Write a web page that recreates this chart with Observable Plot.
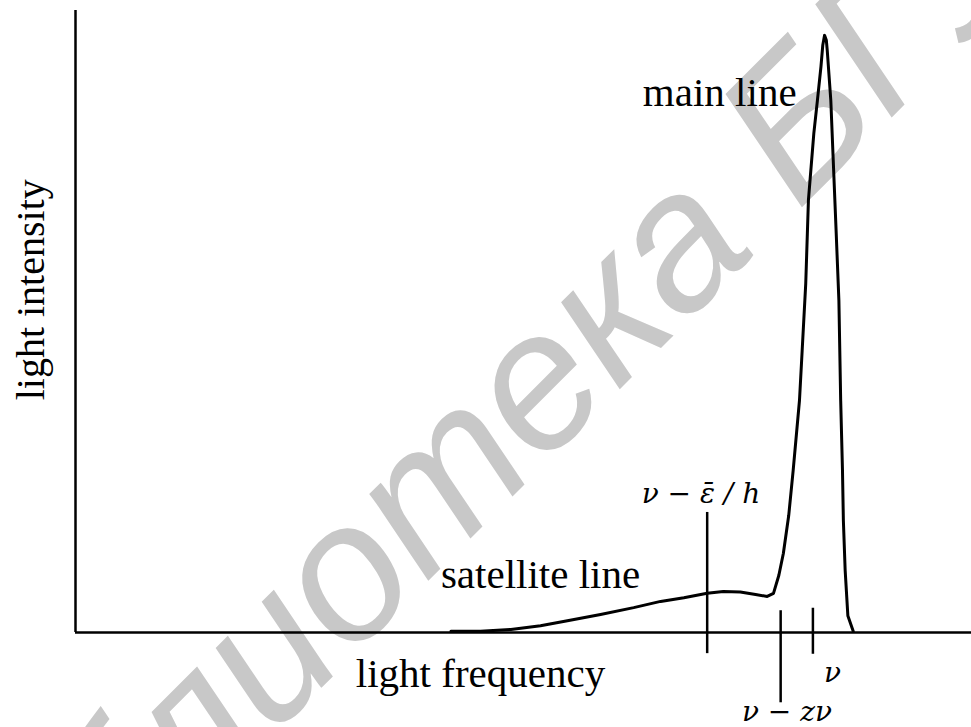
<!DOCTYPE html>
<html>
<head>
<meta charset="utf-8">
<script src="https://cdn.jsdelivr.net/npm/d3@7"></script>
<script src="https://cdn.jsdelivr.net/npm/@observablehq/plot@0.6"></script>
<style>
  html, body { margin: 0; padding: 0; background: white; }
</style>
</head>
<body>
<div id="chart"></div>
<script>
// Spectrum (arbitrary units): light frequency vs light intensity
const frequency = [41.9, 45.2, 48.6, 51.9, 54.9, 58.6, 62.3, 65.3, 67.9, 70.5,
                   72.3, 74.2, 75.9, 77.2, 77.9, 78.5, 79.0, 79.6, 80.1, 80.8,
                   81.1, 81.5, 81.8, 82.4, 82.8, 83.2, 83.4, 83.6, 83.8, 83.9,
                   84.3, 84.6, 84.9, 85.2, 85.4, 85.6, 85.7, 85.9, 86.2, 86.8];
const intensity = [0.2, 0.2, 0.5, 1.1, 1.9, 2.9, 4.0, 5.0, 5.6, 6.3,
                   6.6, 6.5, 6.1, 5.8, 6.3, 9.2, 12.7, 18.8, 26.1, 37.3,
                   45.3, 56.1, 69.5, 80.2, 85.5, 91.0, 94.4, 96.0, 95.2, 93.6,
                   85.5, 74.8, 64.2, 53.4, 37.3, 26.1, 18.0, 10.0, 2.7, 0.2];

// Marker ticks on the frequency axis
const markerFreq = [70.5, 78.7, 82.3];
const markerTop = [19.3, 3.5, 3.9];
const markerBottom = [-3.4, -11.3, -3.5];

// Marker labels (math)
const mathText = ["ν − ε̄ / h", "ν − zν", "ν"];
const mathX = [69.8, 79.4, 84.5];
const mathY = [20.9, -14.3, -8.0];

// Text labels
const labelText = ["main line", "satellite line", "light frequency"];
const labelX = [71.9, 51.9, 45.2];
const labelY = [84.7, 7.1, -8.8];

const yTitle = ["light intensity"];
const yTitleX = [-4.9];
const yTitleY = [55.1];

// Watermark
const watermark = ["Библиотека БГУ"];
const watermarkX = [42.7];
const watermarkY = [27.3];

const spectrum = frequency.map((f, i) => ({f, v: intensity[i]}));
const markers = markerFreq.map((f, i) => ({f, y1: markerTop[i], y2: markerBottom[i]}));
const maths = mathText.map((t, i) => ({t, x: mathX[i], y: mathY[i]}));
const labels = labelText.map((t, i) => ({t, x: labelX[i], y: labelY[i]}));

const serif = "'Liberation Serif', 'Times New Roman', serif";

const chart = Plot.plot({
  width: 971,
  height: 727,
  marginLeft: 75,
  marginRight: 0,
  marginTop: 10,
  marginBottom: 95,
  x: {domain: [0, 100], axis: null},
  y: {domain: [0, 100], axis: null},
  style: {background: "white", fontFamily: serif, color: "black"},
  marks: [
    Plot.text(watermark, {x: watermarkX, y: watermarkY, text: d => d, rotate: -45,
      fontSize: 195, fontStyle: "italic", fontFamily: "'Liberation Sans', Arial, sans-serif",
      fill: "#c8c8c8", textAnchor: "middle", lineAnchor: "middle"}),
    Plot.ruleX([0], {y1: 0, y2: 100, strokeWidth: 2.5, stroke: "black"}),
    Plot.ruleY([0], {x1: 0, x2: 100, strokeWidth: 2.5, stroke: "black"}),
    Plot.line(spectrum, {x: "f", y: "v", stroke: "black", strokeWidth: 3, strokeLinejoin: "round"}),
    Plot.ruleX(markers, {x: "f", y1: "y1", y2: "y2", stroke: "black", strokeWidth: 2.5}),
    Plot.text(labels, {x: "x", y: "y", text: "t", fontSize: 41, fontFamily: serif, lineAnchor: "bottom", textAnchor: "middle", fill: "black"}),
    Plot.text(yTitle, {x: yTitleX, y: yTitleY, text: d => d, rotate: -90, fontSize: 40, fontFamily: serif, lineAnchor: "middle", textAnchor: "middle", fill: "black"}),
    Plot.text(maths, {x: "x", y: "y", text: "t", fontSize: 28, fontStyle: "italic", fontFamily: "'DejaVu Serif', serif", lineAnchor: "bottom", textAnchor: "middle", fill: "black"})
  ]
});
document.getElementById("chart").appendChild(chart);
</script>
</body>
</html>
